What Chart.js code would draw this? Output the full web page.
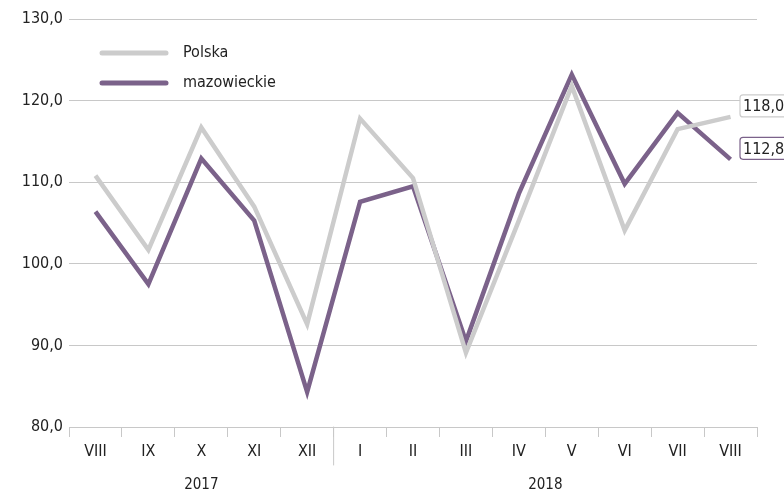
<!DOCTYPE html>
<html>
<head>
<meta charset="utf-8">
<script src="https://cdn.jsdelivr.net/npm/chart.js@4"></script>
<style>
  html, body { margin: 0; padding: 0; background: #fff; }
  #wrap { width: 784px; height: 492px; position: relative; }
</style>
</head>
<body>
<div id="wrap"><canvas id="myChart" width="784" height="492"></canvas></div>
<script>
const miesiace = ["VIII", "IX", "X", "XI", "XII", "I", "II", "III", "IV", "V", "VI", "VII", "VIII"];
const lata = ["2017", "2018"];
const polska = [110.8, 101.7, 116.7, 107.0, 92.6, 117.8, 110.5, 89.1, 105.3, 121.8, 104.1, 116.5, 118.0];
const mazowieckie = [106.4, 97.5, 112.9, 105.3, 84.3, 107.6, 109.5, 90.5, 108.6, 123.2, 109.8, 118.5, 112.8];
const yTicks = [80, 90, 100, 110, 120, 130];

const FONT = "'Liberation Sans Narrow', 'DejaVu Sans Condensed', sans-serif";
const SZARY = "#cccccc";
const FIOLET = "#7b628a";

const fmt = (v) => v.toFixed(1).replace(".", ",");

const dodatki = {
  id: "dodatki",
  afterDraw(chart) {
    const ctx = chart.ctx;
    const x = chart.scales.x;
    const y = chart.scales.y;
    const area = chart.chartArea;
    ctx.save();

    // legenda
    const serie = [["Polska", SZARY, 53], ["mazowieckie", FIOLET, 83]];
    serie.forEach(([nazwa, kolor, py]) => {
      ctx.strokeStyle = kolor;
      ctx.lineWidth = 5;
      ctx.lineCap = "round";
      ctx.beginPath();
      ctx.moveTo(102, py);
      ctx.lineTo(166, py);
      ctx.stroke();
      ctx.fillStyle = "#222";
      ctx.font = "16px " + FONT;
      ctx.textBaseline = "middle";
      ctx.textAlign = "left";
      ctx.fillText(nazwa, 183, py);
    });

    // separator lat
    const sep = (x.getPixelForValue(4) + x.getPixelForValue(5)) / 2;
    ctx.strokeStyle = "#c8c8c8";
    ctx.lineWidth = 1;
    ctx.beginPath();
    ctx.moveTo(sep, area.bottom);
    ctx.lineTo(sep, area.bottom + 38);
    ctx.stroke();

    // podpisy lat
    ctx.fillStyle = "#222";
    ctx.font = "15px " + FONT;
    ctx.textAlign = "center";
    ctx.textBaseline = "middle";
    ctx.fillText(lata[0], x.getPixelForValue(2), 485);
    ctx.fillText(lata[1], (x.getPixelForValue(8) + x.getPixelForValue(9)) / 2, 485);

    // etykiety końcowe
    const ostatni = miesiace.length - 1;
    [[polska[ostatni], SZARY], [mazowieckie[ostatni], FIOLET]].forEach(([v, kolor]) => {
      const py = y.getPixelForValue(v) - 11;
      const bx = 740;
      ctx.fillStyle = "#fff";
      ctx.strokeStyle = kolor;
      ctx.lineWidth = 1.2;
      ctx.beginPath();
      ctx.roundRect(bx, py - 11, 50, 22, 3);
      ctx.fill();
      ctx.stroke();
      ctx.fillStyle = "#222";
      ctx.font = "16px " + FONT;
      ctx.textAlign = "left";
      ctx.fillText(fmt(v), bx + 3, py + 1);
    });
    ctx.restore();
  }
};

new Chart(document.getElementById("myChart"), {
  type: "line",
  data: {
    labels: miesiace,
    datasets: [
      { label: "Polska", data: polska, borderColor: SZARY, borderWidth: 4.5, pointRadius: 0, tension: 0 },
      { label: "mazowieckie", data: mazowieckie, borderColor: FIOLET, borderWidth: 4.5, pointRadius: 0, tension: 0 }
    ]
  },
  options: {
    responsive: false,
    animation: false,
    layout: { padding: { top: 19, right: 27, left: 0, bottom: 0 } },
    plugins: { legend: { display: false }, tooltip: { enabled: false } },
    scales: {
      x: {
        offset: true,
        grid: { offset: true, drawOnChartArea: false, drawTicks: true, tickLength: 10, color: "#c8c8c8" },
        border: { color: "#c8c8c8" },
        ticks: { color: "#222", font: { family: FONT, size: 16 }, padding: 5, maxRotation: 0, autoSkip: false },
        afterFit: (s) => { s.height = 65; }
      },
      y: {
        min: 80,
        max: 130,
        afterBuildTicks: (s) => { s.ticks = yTicks.map((v) => ({ value: v })); },
        grid: { color: "#c8c8c8", drawTicks: false },
        border: { display: false },
        ticks: { color: "#222", font: { family: FONT, size: 16 }, padding: 6, callback: (v) => fmt(v) },
        afterFit: (s) => { s.width = 69; }
      }
    }
  },
  plugins: [dodatki]
});
</script>
</body>
</html>
